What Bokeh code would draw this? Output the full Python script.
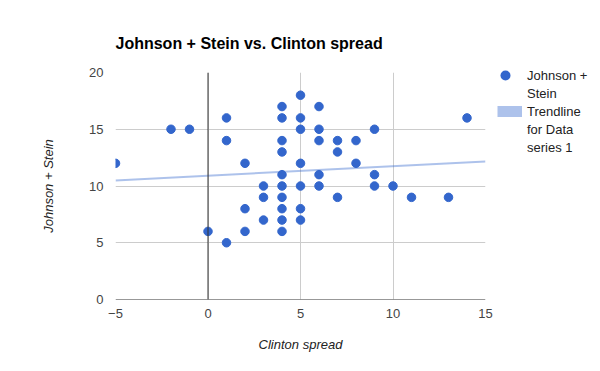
from bokeh.plotting import figure
from bokeh.models import (ColumnDataSource, FixedTicker, Span, Legend, LegendItem, Title)
from bokeh.embed import file_html
from bokeh.resources import INLINE

# Data
clinton_spread = [-5, -2, -1, 0, 1, 1, 1, 2, 2, 2, 3, 3, 3,
                  4, 4, 4, 4, 4, 4, 4, 4, 4, 4,
                  5, 5, 5, 5, 5, 5, 5,
                  6, 6, 6, 6, 6, 7, 7, 7, 8, 8, 9, 9, 9, 10, 11, 13, 14]
johnson_stein = [12, 15, 15, 6, 16, 14, 5, 12, 8, 6, 10, 9, 7,
                 17, 16, 14, 13, 11, 10, 9, 8, 7, 6,
                 18, 16, 15, 12, 10, 8, 7,
                 17, 15, 14, 11, 10, 14, 13, 9, 14, 12, 15, 11, 10, 10, 9, 9, 16]
trend_x = [-5, 15]
trend_y = [10.49, 12.16]
x_ticks = [-5, 0, 5, 10, 15]
y_ticks = [0, 5, 10, 15, 20]
legend_lines_points = ["Johnson +", "Stein"]
legend_lines_trend = ["Trendline", "for Data", "series 1"]

FONT = "Liberation Sans"

p = figure(frame_width=370, frame_height=227, output_backend="svg", toolbar_location=None,
           x_range=(-5, 15), y_range=(0, 20),
           min_border_left=115, min_border_right=99,
           min_border_top=72, min_border_bottom=56)
p.outline_line_color = None
p.background_fill_color = "white"
p.border_fill_color = "white"

p.title = Title(text="Johnson + Stein vs. Clinton spread", align="left",
                text_font=FONT, text_font_size="16px", text_font_style="bold",
                text_color="#000000", standoff=41)

# grid
p.xgrid.ticker = FixedTicker(ticks=x_ticks)
p.ygrid.ticker = FixedTicker(ticks=y_ticks)
p.grid.grid_line_color = "#CCCCCC"
p.grid.grid_line_width = 1

for ax, ticks in ((p.xaxis[0], x_ticks), (p.yaxis[0], y_ticks)):
    ax.ticker = FixedTicker(ticks=ticks)
    ax.axis_line_color = None
    ax.major_tick_line_color = None
    ax.minor_tick_line_color = None
    ax.major_tick_out = 0
    ax.major_tick_in = 0
    ax.major_label_text_font = FONT
    ax.major_label_text_font_size = "13px"
    ax.major_label_text_color = "#444444"
    ax.axis_label_text_font = FONT
    ax.axis_label_text_font_size = "13px"
    ax.axis_label_text_font_style = "italic"
    ax.axis_label_text_color = "#222222"

p.xaxis.axis_label = "Clinton spread"
p.yaxis.axis_label = "Johnson + Stein"
p.xaxis.major_label_standoff = 9
p.yaxis.major_label_standoff = 12
p.xaxis.axis_label_standoff = 16
p.yaxis.axis_label_standoff = 30

# baselines
p.add_layout(Span(location=0, dimension="height", line_color="#333333", line_width=1))
p.add_layout(Span(location=0, dimension="width", line_color="#333333", line_width=1))

src = ColumnDataSource(data=dict(x=clinton_spread, y=johnson_stein))
trend = p.line(trend_x, trend_y, line_color="#3366CC", line_alpha=0.4, line_width=2)
pts = p.scatter("x", "y", source=src, size=8.5, fill_color="#3366CC", line_color="#3366CC")

# legend-only renderers (placed outside the visible ranges)
dot = p.line([100, 101], [100, 100], line_color="#3366CC", line_width=10,
             line_cap="round", line_dash="0 100", line_dash_offset=92)
swatch = p.line([100, 101], [100, 100], line_color="#3366CC", line_alpha=0.4,
                line_width=11, line_cap="butt")
blank = p.scatter([100], [100], size=1, fill_alpha=0, line_alpha=0)

items = [LegendItem(label=legend_lines_points[0], renderers=[dot]),
         LegendItem(label=legend_lines_points[1], renderers=[blank]),
         LegendItem(label=legend_lines_trend[0], renderers=[swatch]),
         LegendItem(label=legend_lines_trend[1], renderers=[blank]),
         LegendItem(label=legend_lines_trend[2], renderers=[blank])]

legend = Legend(items=items, location=(12, 143), border_line_color=None,
                background_fill_alpha=0,
                label_text_font=FONT, label_text_font_size="13px", label_text_color="#222222",
                glyph_width=25, glyph_height=18, label_height=18, label_standoff=5,
                spacing=0, padding=0, margin=0)
p.add_layout(legend, "right")

open("out.html", "w").write(file_html(p, INLINE))
